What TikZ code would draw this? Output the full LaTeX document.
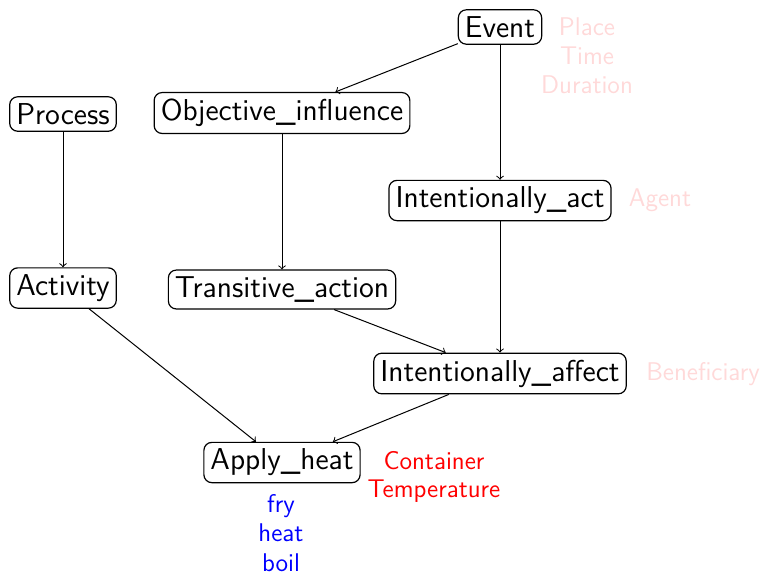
\documentclass[tikz,border=0pt]{standalone}
\usepackage{tikz}

\tikzset{
  frame/.style={draw, rounded corners=4pt, line width=0.6pt, inner sep=3.3pt,
    font=\sffamily\fontsize{15.1}{18}\selectfont},
  role/.style={align=center, font=\sffamily\fontsize{12.8}{14.5}\selectfont},
  faint/.style={role, text=red!15},
  link/.style={->, line width=0.5pt}
}

\begin{document}
\begin{tikzpicture}[x=0.5pt, y=-0.5pt]
  \useasboundingbox (0,0) rectangle (763,575);

  \node[frame] (ev) at (500,27) {Event};
  \node[frame] (proc) at (63,114) {Process};
  \node[frame] (obj) at (282,113) {Objective\_influence};
  \node[frame] (iact) at (500,200.5) {Intentionally\_act};
  \node[frame] (act) at (63,288) {Activity};
  \node[frame] (trans) at (282,289.5) {Transitive\_action};
  \node[frame] (iaff) at (500,373.5) {Intentionally\_affect};
  \node[frame] (heat) at (282,462.5) {Apply\_heat};

  \node[faint] (evroles) at (587,56) {Place\\Time\\Duration};
  \node[faint] (actroles) at (660,200) {Agent};
  \node[faint] (affroles) at (703,374) {Beneficiary};
  \node[role, text=red, font=\sffamily\fontsize{12.8}{13.6}\selectfont] (heatroles) at (434,477) {Container\\Temperature};
  \node[role, text=blue, font=\sffamily\fontsize{12.8}{14.6}\selectfont] (words) at (281,533) {fry\\heat\\boil};

  \draw[link] (ev) -- (obj);
  \draw[link] (ev) -- (iact);
  \draw[link] (proc) -- (act);
  \draw[link] (obj) -- (trans);
  \draw[link] (iact) -- (iaff);
  \draw[link] (trans) -- (iaff);
  \draw[link] (act) -- (heat);
  \draw[link] (iaff) -- (heat);
\end{tikzpicture}
\end{document}
